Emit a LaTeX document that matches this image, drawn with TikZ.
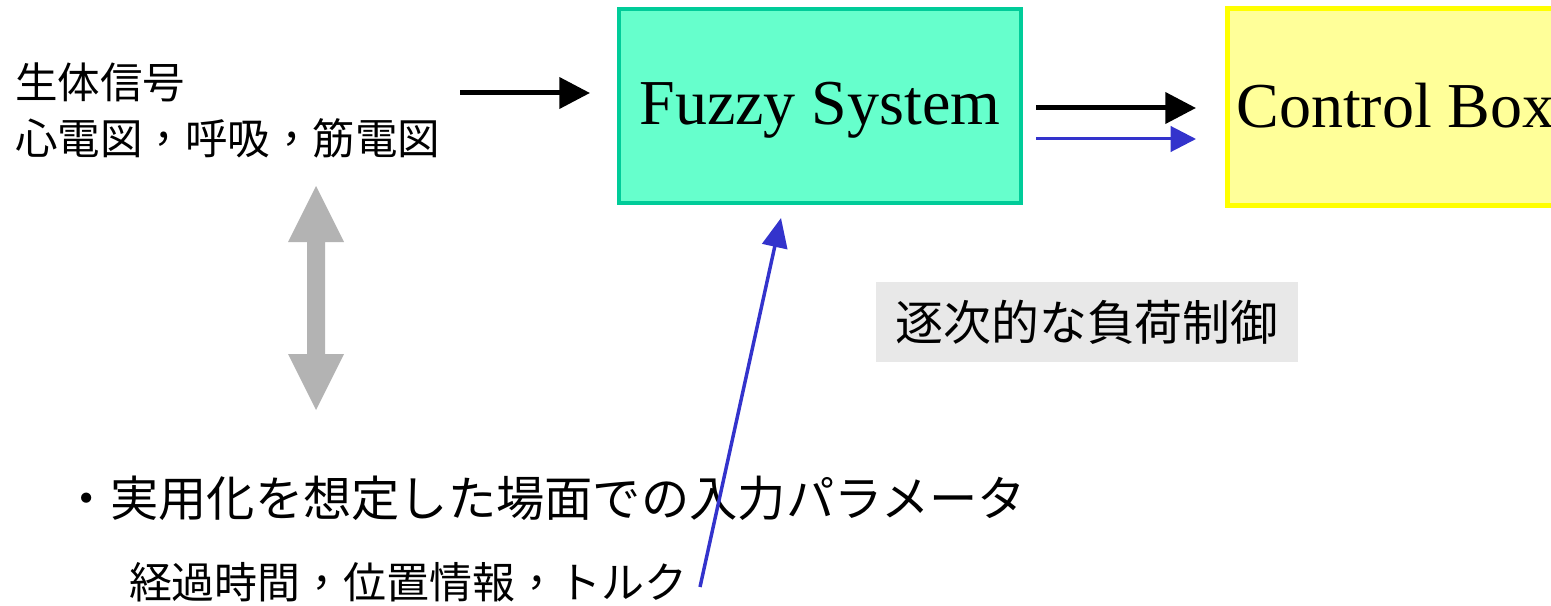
\documentclass[tikz,border=0pt]{standalone}
\usepackage{fontspec}
\setmainfont{Liberation Serif}
\newfontfamily\jp{Noto Sans CJK JP}
\newfontfamily\tcfont{Noto Sans CJK TC}
\newcommand{\zcomma}{{\tcfont ，}}
\usetikzlibrary{arrows.meta,calc}
\definecolor{tealline}{HTML}{00CC99}
\definecolor{tealfill}{HTML}{66FFCC}
\definecolor{yelline}{HTML}{FFFF00}
\definecolor{yelfill}{HTML}{FFFF99}
\definecolor{blueline}{HTML}{3333CC}
\definecolor{arrowgray}{HTML}{B3B3B3}
\definecolor{boxgray}{HTML}{E8E8E8}
\tikzset{
  blockbox/.style={rectangle, inner sep=0pt, outer sep=0pt, font=\fontsize{48}{56}\selectfont},
  jtext/.style={inner sep=0pt, outer sep=0pt, anchor=west},
  blackarrow/.style={draw=black, line width=3.75pt, -{Triangle[length=23pt,width=23pt]}},
  bluearrow/.style={draw=blueline, line width=2.25pt, -{Triangle[length=19pt,width=19pt]}}
}
\begin{document}
\begin{tikzpicture}[x=0.75pt,y=-0.75pt]
\useasboundingbox (0,0) rectangle (1551,606);
\clip (0,0) rectangle (1551,606);

% boxes
\node[blockbox, draw=tealline, fill=tealfill, line width=3pt,
      minimum width=301.5pt, minimum height=145.5pt,
      text height=36pt, text depth=7.5pt] (fuzzy) at (820,106) {Fuzzy System};
\node[blockbox, draw=yelline, fill=yelfill, line width=3.75pt,
      minimum width=252.75pt, minimum height=147pt,
      text height=39pt, text depth=7.5pt] (ctrl) at (1395.5,107) {Control Box};

% gray label
\node[inner sep=0pt, outer sep=0pt, fill=boxgray, minimum width=317pt, minimum height=60pt,
      font=\jp\fontsize{35.9}{42}\selectfont] (load) at (1087,322) {逐次的な負荷制御};

% texts
\node[jtext, font=\jp\fontsize{31.9}{38}\selectfont] (bio1) at (15,82) {生体信号};
\node[jtext, font=\jp\fontsize{31.9}{38}\selectfont] (bio2) at (15,138) {心電図\zcomma 呼吸\zcomma 筋電図};
\node[jtext, font=\jp\fontsize{36.2}{42}\selectfont] (use) at (62,498) {・実用化を想定した場面での入力パラメータ};
\node[jtext, font=\jp\fontsize{32.2}{38}\selectfont] (param) at (129,582) {経過時間\zcomma 位置情報\zcomma トルク};

% connectors
\coordinate (inStart) at (460,93);
\draw[blackarrow, shorten >=21.75pt] (inStart) -- (fuzzy.west |- inStart);
\coordinate (outA) at (1036,108);
\draw[blackarrow, shorten >=23.25pt] (outA) -- (ctrl.west |- outA);
\coordinate (outB) at (1036,139);
\draw[bluearrow, shorten >=23.25pt] (outB) -- (ctrl.west |- outB);
\coordinate (diagTail) at (700,587);
\coordinate (diagTip) at (781,218);
\draw[bluearrow, line width=2.6pt, -{Triangle[length=22pt,width=19pt]}] (diagTail) -- (diagTip);

% gray double arrow
\fill[arrowgray] (316,186) -- (344,242) -- (325,242) -- (325,354) -- (344,354) -- (316,410)
  -- (288,354) -- (307,354) -- (307,242) -- (288,242) -- cycle;
\end{tikzpicture}
\end{document}
